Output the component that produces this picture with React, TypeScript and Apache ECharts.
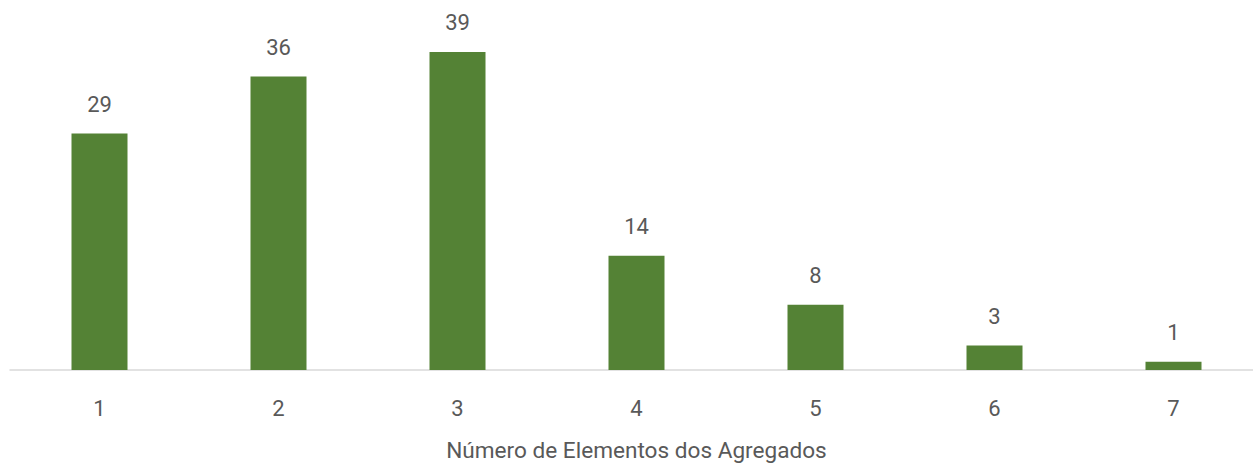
import React, { useEffect, useRef } from "react";
import * as echarts from "echarts";

const categories = ["1", "2", "3", "4", "5", "6", "7"];
const values = [29, 36, 39, 14, 8, 3, 1];
const axisTitle = "Número de Elementos dos Agregados";

const FONT = "Roboto, 'Open Sans', sans-serif";
const TEXT = "#595959";

export default function App() {
  const ref = useRef<HTMLDivElement>(null);
  useEffect(() => {
    if (!ref.current) return;
    const chart = echarts.init(ref.current, undefined, { renderer: "svg" });
    chart.setOption({
      animation: false,
      grid: { left: 10, right: 0, top: 3, bottom: 93, containLabel: false, outerBoundsMode: "none" },
      xAxis: {
        type: "category",
        data: categories,
        axisLine: { show: true, lineStyle: { color: "#d9d9d9", width: 1.5 } },
        axisTick: { show: false },
        axisLabel: { color: TEXT, fontSize: 22, fontFamily: FONT, margin: 27 },
        name: axisTitle,
        nameLocation: "middle",
        nameGap: 68,
        nameTextStyle: { color: TEXT, fontSize: 22.6, fontFamily: FONT, lineHeight: 24 },
      },
      yAxis: {
        type: "value",
        min: 0,
        max: 45,
        show: false,
        splitLine: { show: false },
      },
      series: [
        {
          type: "bar",
          data: values,
          barWidth: 56,
          itemStyle: { color: "#548235" },
          label: {
            show: true,
            position: "top",
            distance: 18,
            color: TEXT,
            fontSize: 22,
            fontFamily: FONT,
          },
        },
      ],
    });
    return () => chart.dispose();
  }, []);
  return (
    <div style={{ position: "absolute", left: 0, top: 0, width: 1253, height: 463, overflow: "hidden", background: "#fff" }}>
      <div ref={ref} style={{ width: 1263, height: 463 }} />
    </div>
  );
}
